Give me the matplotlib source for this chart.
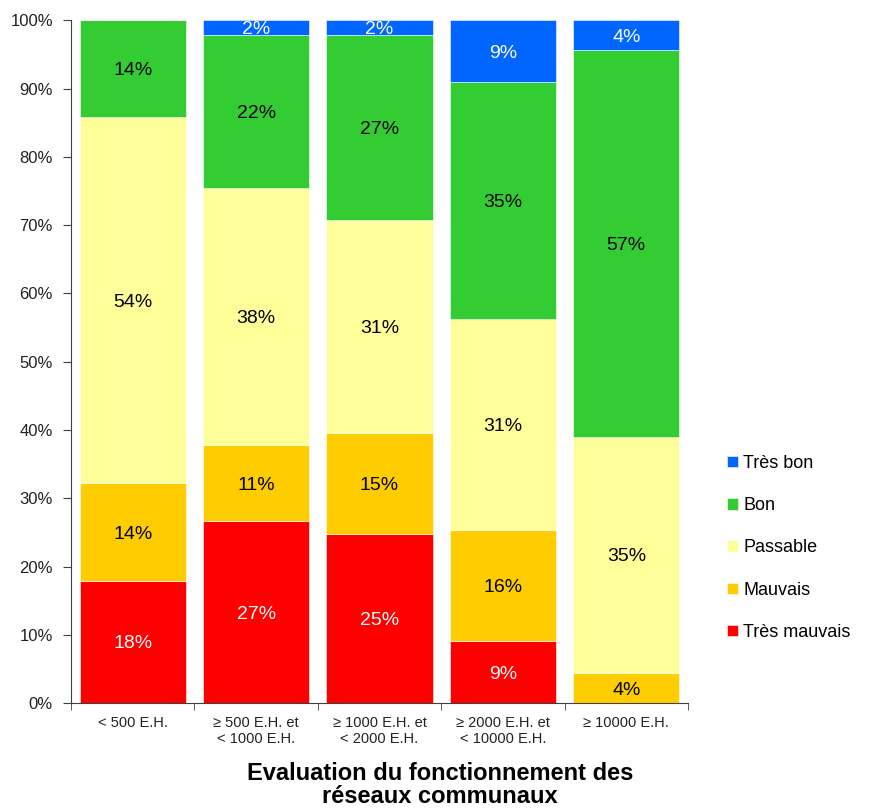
import matplotlib
matplotlib.use("Agg")
import matplotlib.pyplot as plt
import numpy as np

plt.rcParams['font.family'] = ['Liberation Sans', 'DejaVu Sans']

categories = ["< 500 E.H.", "\u2265 500 E.H. et\n< 1000 E.H.", "\u2265 1000 E.H. et\n< 2000 E.H.",
              "\u2265 2000 E.H. et\n< 10000 E.H.", "\u2265 10000 E.H."]
series = ["Très mauvais", "Mauvais", "Passable", "Bon", "Très bon"]
tres_mauvais = [17.9, 26.6, 24.8, 9.1, 0.0]
mauvais = [14.3, 11.2, 14.7, 16.3, 4.4]
passable = [53.6, 37.7, 31.2, 30.9, 34.6]
bon = [14.2, 22.3, 27.1, 34.6, 56.6]
tres_bon = [0.0, 2.2, 2.2, 9.1, 4.4]

colors = ["#FF0000", "#FFCC00", "#FFFF99", "#33CC33", "#0066FF"]
text_colors = ["white", "black", "black", "black", "white"]

fig = plt.figure(figsize=(8.69, 8.10), dpi=100)
ax = fig.add_axes([0.0817, 0.132, 0.710, 0.843])

x = np.arange(len(categories))
bottom = np.zeros(len(categories))
handles = []
for vals, col, tc, name in zip([tres_mauvais, mauvais, passable, bon, tres_bon], colors, text_colors, series):
    vals = np.array(vals)
    b = ax.bar(x, vals, 0.86, bottom=bottom, color=col, edgecolor="white", linewidth=0.4, label=name)
    handles.append(b)
    for xi, v, bt in zip(x, vals, bottom):
        if v > 0:
            ax.text(xi, bt + v / 2, f"{v:.0f}%", ha="center", va="center_baseline", fontsize=14, color=tc)
    bottom += vals

ax.set_xlim(-0.5, 4.5)
ax.set_ylim(0, 100)
ax.set_yticks(np.arange(0, 101, 10))
ax.set_yticklabels([f"{t}%" for t in range(0, 101, 10)], fontsize=12, color="#222222")
ax.set_xticks(x)
ax.set_xticklabels(categories, fontsize=10.5, color="#222222")
ax.tick_params(axis="x", length=0, pad=9)
ax.set_xticks(np.arange(-0.5, 5, 1), minor=True)
ax.tick_params(axis="x", which="minor", length=5, direction="out", color="#404040")
ax.tick_params(axis="y", length=6, direction="out", color="#404040", pad=7)
for s in ["top", "right"]:
    ax.spines[s].set_visible(False)
ax.spines["left"].set_color("#404040")
ax.spines["bottom"].set_color("#404040")

leg = fig.legend(handles[::-1], series[::-1], loc="center left", bbox_to_anchor=(0.818, 0.3235),
                 frameon=False, fontsize=13, handlelength=0.6, handleheight=0.6,
                 handletextpad=0.3, labelspacing=1.4)

fig.text(0.506, 0.031, "Evaluation du fonctionnement des\nréseaux communaux", ha="center", va="center",
         fontsize=17, fontweight="bold", linespacing=1.0)

fig.savefig("out.png", dpi=100)
